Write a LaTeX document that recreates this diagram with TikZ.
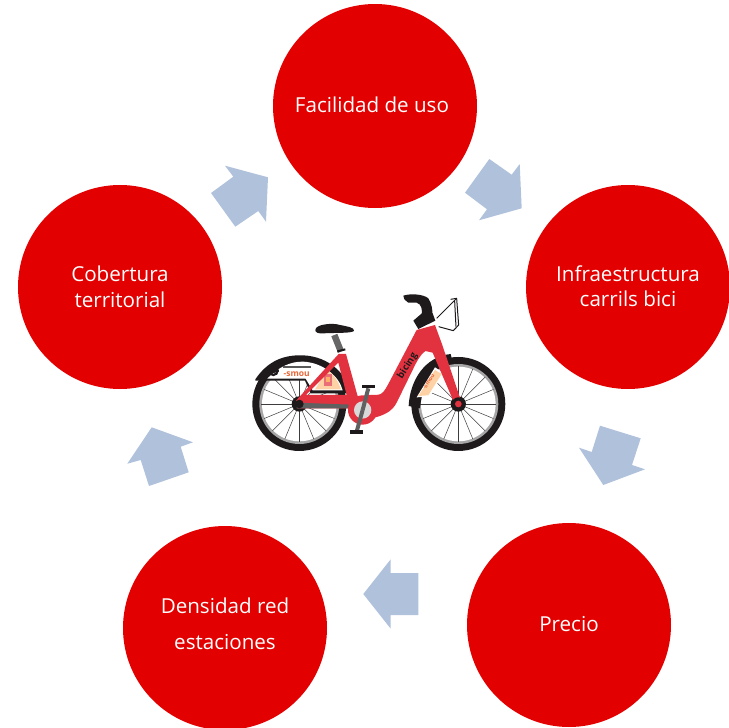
\documentclass[tikz,border=0pt]{standalone}
\usepackage{fontspec}
\setmainfont{Open Sans}
\definecolor{cred}{HTML}{E30000}
\definecolor{arrowblue}{HTML}{B0C1DC}
\definecolor{bred}{HTML}{E2323F}
\definecolor{tire}{HTML}{1E1A1B}
\definecolor{logoorange}{HTML}{E9683A}
\tikzset{
  stage/.style={circle,fill=cred,minimum size=204pt,inner sep=0pt},
  stagetext/.style={text=white,align=center,inner sep=0pt,font=\fontsize{20.6}{25.5}\selectfont},
  flow/.style={fill=arrowblue,draw=none},
  spoke/.style={draw=tire!85,line width=0.5pt},
  bframe/.style={fill=bred,draw=none},
  bblack/.style={fill=tire,draw=none},
}
\newcommand{\bikewheel}[2]{%
  \fill[tire] (#1,#2) circle (141);
  \fill[gray!70] (#1,#2) circle (120);
  \fill[white] (#1,#2) circle (112);
  \foreach \a in {0,22.5,...,337.5}{\draw[spoke] (#1,#2) -- ++(\a:114);}
  \fill[tire] (#1,#2) circle (23);
}
\begin{document}
\begin{tikzpicture}[x=1pt,y=-1pt]
\useasboundingbox (0,0) rectangle (729,728);
\node[stage] (uso) at (375,106) {};
\node[stage] (infra) at (628,287) {};
\node[stage] (precio) at (569,625) {};
\node[stage] (dens) at (225,628) {};
\node[stage] (cob) at (120,287) {};
\node[stagetext] (usot) at (372,105) {Facilidad de uso};
\node[stagetext] (infrat) at (628,286) {Infraestructura\\carrils bici};
\node[stagetext] (preciot) at (569,624) {Precio};
\node[stagetext] (denst) at (225,624) {Densidad red\\[10.5pt]estaciones};
\node[stagetext] (cobt) at (120,287) {Cobertura\\territorial};
% flow arrows
\fill[flow] (225,165.7) -- (268,177.3) -- (266,221.7) -- (258.3,211) -- (235.3,226.7) -- (211,193) -- (233.3,176.7) -- cycle;
\fill[flow] (489.3,159) -- (511.7,174.7) -- (519.7,164) -- (521.7,208.3) -- (479,220.3) -- (487,209.3) -- (465,192.7) -- cycle;
\fill[flow] (600,425.7) -- (640.7,438.3) -- (632,465) -- (645,469.3) -- (603.3,485) -- (579,447.7) -- (591.7,452) -- cycle;
\fill[flow] (418.3,573) -- (390.7,573) -- (390.7,559.3) -- (363.3,594) -- (390.7,628.7) -- (390.7,615) -- (418.3,615) -- cycle;
\fill[flow] (151.7,427.3) -- (193,442.3) -- (180.7,446.7) -- (188.7,472.3) -- (149,486) -- (140.7,460) -- (127.3,463.7) -- cycle;
% bicycle, drawn in the coordinates of a 3x crop
\begin{scope}[shift={(240,280)},x=0.3333pt,y=-0.3333pt]
  \bikewheel{178}{372}
  \bikewheel{655}{372}
  % rear fender
  \fill[tire] (46,298) .. controls (85,240) and (135,224) .. (190,226) .. controls (270,230) and (322,285) .. (332,340) -- (212,340) -- (195,302) -- (46,302) -- cycle;
  \fill[white] (82,296) .. controls (115,262) and (150,244) .. (190,245) .. controls (250,248) and (298,290) .. (308,331) -- (218,331) -- (197,296) -- cycle;
  \fill[orange!35] (225,328) -- (262,270) .. controls (280,282) and (296,305) .. (303,328) -- cycle;
  \fill[bred!70] (252,282) rectangle (276,318);
  \fill[orange!60] (258,290) rectangle (270,305);
  \draw[gray!70!black,line width=1.2pt] (128,261) -- (212,261);
  \node[font=\fontsize{8.5}{8.5}\selectfont\bfseries,text=logoorange,inner sep=0pt] (smou) at (170,284) {-smou};
  \draw[tire,line width=2.2pt] (100,272) circle (13);
  \draw[tire,line width=2pt] (78,282) -- (116,272);
  % front fender
  \fill[tire] (506,378) .. controls (510,300) and (555,230) .. (632,222) -- (636,238) .. controls (590,250) and (548,300) .. (540,385) -- cycle;
  \fill[white] (530,352) -- (585,262) -- (610,278) -- (570,350) -- cycle;
  \fill[orange!35] (535,348) -- (585,270) -- (605,282) -- (565,346) -- cycle;
  \node[rotate=58,font=\fontsize{5.5}{5.5}\selectfont\bfseries,text=logoorange,inner sep=0pt] (smoub) at (567,305) {-smou};
  % seat post and seat
  \draw[gray!80!black,line width=6.5pt] (283,165) -- (303,215);
  \fill[tire] (226,150) .. controls (226,132) and (280,128) .. (300,135) .. controls (325,140) and (342,142) .. (342,152) .. controls (340,160) and (290,158) .. (250,160) .. controls (235,161) and (226,158) .. (226,150) -- cycle;
  \draw[tire,line width=2pt] (292,214) -- (316,208);
  % rear triangle
  \fill[bframe] (168,362) -- (296,222) -- (318,222) -- (352,345) -- (372,395) -- (345,395) -- (320,345) -- (295,248) -- (198,345) -- (345,345) -- (345,385) -- (172,385) -- cycle;
  \fill[gray!75!black] (170,368) -- (335,374) -- (335,385) -- (170,385) -- cycle;
  % main frame
  \fill[bframe] (530,150) -- (585,135) -- (607,195) -- (665,368) -- (645,374) -- (578,218) -- (556,213) .. controls (540,225) and (530,245) .. (518,270) -- (470,368) .. controls (455,398) and (425,408) .. (395,415) -- (375,345) -- (410,345) .. controls (428,345) and (435,330) .. (445,312) -- cycle;
  \node[rotate=58,font=\fontsize{9.5}{9.5}\selectfont\bfseries,text=tire,inner sep=0pt] (brand) at (503,258) {bicing};
  % crank
  \fill[bframe] (368,390) circle (44);
  \fill[gray!30] (368,390) circle (26);
  \draw[gray!75!black,line width=4pt] (368,390) -- (385,325);
  \draw[gray!75!black,line width=4pt] (368,390) -- (350,455);
  \fill[tire] (367,314) rectangle (405,325);
  \fill[tire] (330,451) rectangle (368,463);
  \fill[tire] (655,372) circle (20);
  \fill[bframe] (655,372) circle (10);
  \fill[tire] (178,372) circle (13);
  % head and handlebar
  \fill[tire] (520,122) -- (548,98) -- (578,100) -- (586,122) -- (535,147) -- cycle;
  \fill[tire] (490,47) .. controls (510,40) and (550,42) .. (565,55) .. controls (575,70) and (578,90) .. (578,110) -- (545,110) .. controls (548,90) and (545,72) .. (530,68) -- (505,68) .. controls (495,60) and (488,55) .. (490,47) -- cycle;
  % basket
  \draw[tire,line width=1pt,line join=round] (590,115) -- (650,55) -- (656,135) -- (640,152) -- (596,140);
  \draw[tire,line width=1pt] (650,55) -- (632,58);
  \draw[tire,line width=1pt] (644,62) -- (648,140);
\end{scope}
\end{tikzpicture}
\end{document}
